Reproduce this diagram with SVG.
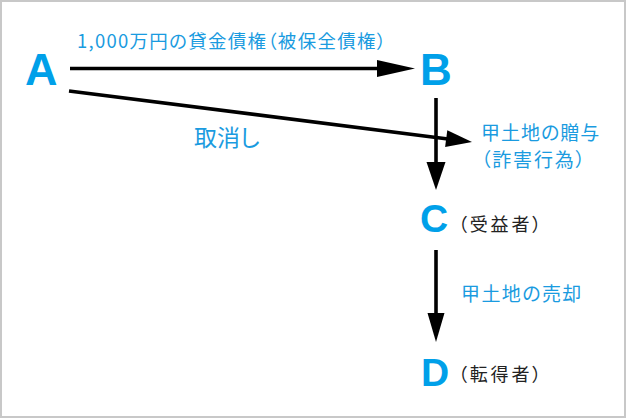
<svg xmlns="http://www.w3.org/2000/svg" width="626" height="418" viewBox="0 0 626 418">
<style>
.frame{fill:#fff;stroke:#c8c8c8;stroke-width:2}
.letter{font-family:"Liberation Sans",Arial,sans-serif;font-weight:bold;fill:#00a0e9}
.lbl{font-family:"Noto Sans CJK JP",sans-serif;fill:#1a9be0;font-feature-settings:"palt"}
.note{font-family:"Noto Sans CJK JP",sans-serif;fill:#222;font-size:18px;font-feature-settings:"palt"}
.line{stroke:#000;stroke-width:3.6;fill:none}
.head{fill:#000}
</style>
<rect class="frame" x="1" y="1" width="624" height="416"/>
<g id="connectors">
  <line class="line" x1="70" y1="68.5" x2="380" y2="68.5"/>
  <polygon class="head" points="377,60 415,68.5 377,77"/>
  <line class="line" x1="69" y1="91" x2="448" y2="139"/>
  <polygon class="head" points="445.1,147.1 472,142 447.3,130.3"/>
  <line class="line" x1="436" y1="98" x2="436" y2="165"/>
  <polygon class="head" points="426.5,162 445.5,162 436,190"/>
  <line class="line" x1="436" y1="250" x2="436" y2="316"/>
  <polygon class="head" points="427.5,313 444.5,313 436,342"/>
  <text class="lbl" x="77" y="47.5" font-size="18.5" textLength="309" lengthAdjust="spacing">1,000万円の貸金債権（被保全債権）</text>
  <text class="lbl" x="194" y="146" font-size="23">取消し</text>
  <text class="lbl" x="481" y="139.5" font-size="19" letter-spacing="1">甲土地の贈与</text>
  <text class="lbl" x="481" y="166.5" font-size="19" letter-spacing="1.8">（詐害行為）</text>
  <text class="lbl" x="461" y="300.5" font-size="19" letter-spacing="1.4">甲土地の売却</text>
</g>
<g id="node-A"><text class="letter" x="25" y="85" font-size="45">A</text></g>
<g id="node-B"><text class="letter" x="420" y="85" font-size="44">B</text></g>
<g id="node-C">
  <text class="letter" x="420" y="232" font-size="39">C</text>
  <text class="note" x="458" y="230.5" letter-spacing="2.8">（受益者）</text>
</g>
<g id="node-D">
  <text class="letter" x="421" y="386" font-size="39">D</text>
  <text class="note" x="458" y="380.5" letter-spacing="2.8">（転得者）</text>
</g>
</svg>
